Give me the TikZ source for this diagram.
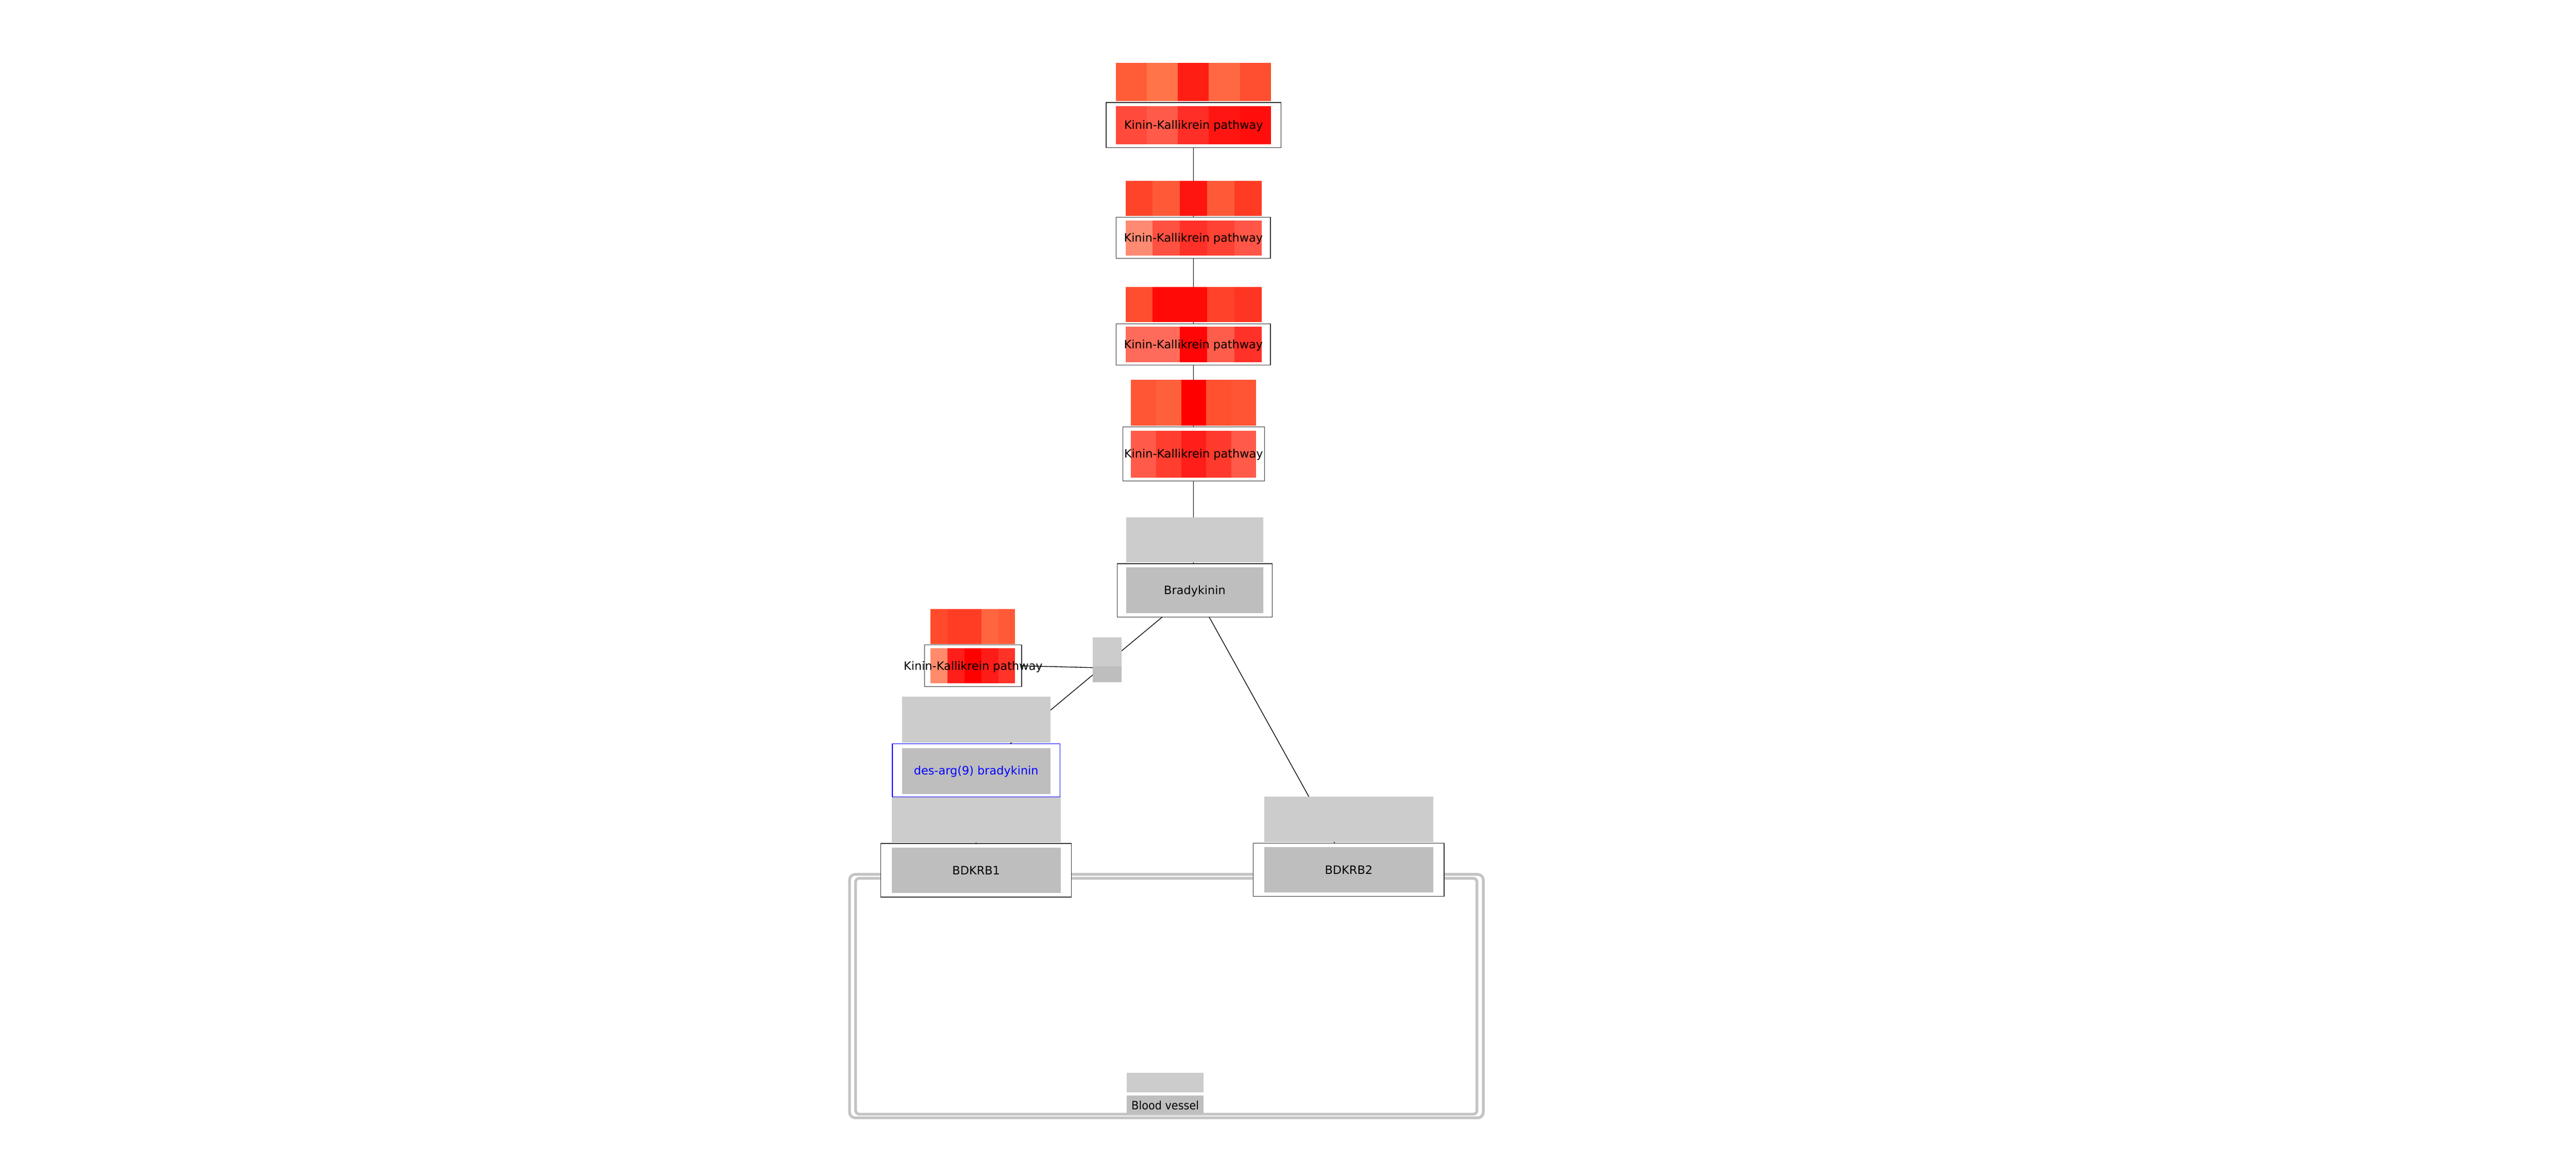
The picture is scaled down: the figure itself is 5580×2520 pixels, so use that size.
\documentclass[tikz,border=0pt]{standalone}
\usepackage{fontspec}
\setmainfont{DejaVu Sans}
\usetikzlibrary{calc}
\definecolor{gup}{HTML}{CCCCCC}
\definecolor{glow}{HTML}{BEBEBE}
\definecolor{compgray}{HTML}{C4C4C4}
\definecolor{boxline}{HTML}{333333}
\definecolor{dblue}{HTML}{0000FF}
\newcommand\RectNode[6]{%
  \pgfmathsetmacro\rnw{#5-#3}\pgfmathsetmacro\rnh{#6-#4}%
  \pgfmathsetmacro\rnx{(#3+#5)/2}\pgfmathsetmacro\rny{(#4+#6)/2}%
  \node[#2, minimum width=\rnw pt, minimum height=\rnh pt] (#1) at (\rnx,\rny) {};}
\newcommand\HeatCells[2]{%
  \foreach \hc [count=\hi from 0] in {#2} {%
    \definecolor{hcell}{HTML}{\hc}%
    \fill[hcell] ($(#1.south west)!{\hi/5}!(#1.south east)$) rectangle (#1.north east);
  }}
\begin{document}
\begin{tikzpicture}[x=1pt,y=-1pt,
  cellbox/.style={inner sep=0pt,outer sep=0pt,draw=none},
  nbox/.style={draw=boxline,fill=white,line width=1.4pt,inner sep=0pt,outer sep=0pt},
  bluebox/.style={nbox,draw=dblue},
  gupper/.style={cellbox,fill=gup},
  glower/.style={cellbox,fill=glow},
  conn/.style={draw=black,line width=1.5pt},
  lbl/.style={inner sep=0pt,anchor=base,text=black,font=\fontsize{25}{30}\selectfont},
  comp/.style={draw=compgray,line width=6pt}]
\useasboundingbox (0,0) rectangle (5580,2520);

% compartment (Blood vessel)
\draw[comp,rounded corners=12pt] (1840.3,1893.7) rectangle (3213,2421);
\draw[comp,rounded corners=8pt] (1853.3,1902.3) rectangle (3199.3,2413);

% boxes
\RectNode{p1box}{nbox}{2396}{222}{2775}{320}
\RectNode{p2box}{nbox}{2418}{470}{2752}{560}
\RectNode{p3box}{nbox}{2418}{701}{2752}{791}
\RectNode{p4box}{nbox}{2432}{925}{2739}{1042}
\RectNode{bkbox}{nbox}{2420}{1221}{2756}{1336}
\RectNode{p5box}{nbox}{2003}{1397}{2213}{1487}
\RectNode{dgbox}{bluebox}{1933}{1611}{2296}{1726}
\RectNode{b1box}{nbox}{1908}{1827}{2321}{1943}
\RectNode{b2box}{nbox}{2715}{1826}{3128}{1941}
\RectNode{anc}{cellbox}{2367}{1380}{2430}{1478}

% connectors
\draw[conn] (p1box.south) -- (p1box.south |- p2box.north);
\draw[conn] (p2box.south) -- (p2box.south |- p3box.north);
\draw[conn] (p3box.south) -- (p3box.south |- p4box.north);
\draw[conn] (p4box.south) -- (p4box.south |- bkbox.north);
\draw[conn] ([xshift=98pt]bkbox.south west) -- ([xshift=255pt]dgbox.north west);
\draw[conn] ([xshift=199pt]bkbox.south west) -- ([xshift=176pt]b2box.north west);
\draw[conn] (dgbox.south) -- (b1box.north);
\draw[conn] (p5box.east) -- ([yshift=-17pt]anc.west);

% anchor node
\fill[gup] (anc.north west) rectangle ([yshift=-14pt]anc.east);
\fill[glow] ([yshift=-14pt]anc.west) rectangle (anc.south east);

% heat strips
\RectNode{p1u}{cellbox}{2417}{136}{2753}{219}
\HeatCells{p1u}{FF5C38,FF7448,FF1E14,FF6842,FF4E30}
\RectNode{p1l}{cellbox}{2417}{230}{2753}{313}
\HeatCells{p1l}{FF4A3C,FF5A4A,FF2E26,FF1612,FF0E0C}
\RectNode{p2u}{cellbox}{2438}{392}{2733}{468}
\HeatCells{p2u}{FF4529,FF5A38,FF1510,FF5A38,FF3B24}
\RectNode{p2l}{cellbox}{2438}{478}{2733}{554}
\HeatCells{p2l}{FF8A72,FF5142,FF3028,FF4233,FF5647}
\RectNode{p3u}{cellbox}{2438}{622}{2733}{698}
\HeatCells{p3u}{FF4D2F,FF0A06,FF0A06,FF4229,FF3523}
\RectNode{p3l}{cellbox}{2438}{708}{2733}{784}
\HeatCells{p3l}{FF6B5A,FF6B5A,FF0505,FF5D4C,FF3128}
\RectNode{p4u}{cellbox}{2450}{822}{2721}{922}
\HeatCells{p4u}{FF5735,FF603C,FF0000,FF5030,FF5535}
\RectNode{p4l}{cellbox}{2450}{933}{2721}{1034}
\HeatCells{p4l}{FF5A4A,FF3E30,FF1E1A,FF3A2C,FF5A4A}
\RectNode{p5u}{cellbox}{2016}{1319}{2199}{1395}
\HeatCells{p5u}{FF4A2C,FF3D25,FF3D25,FF6640,FF5A38}
\RectNode{p5l}{cellbox}{2016}{1404}{2199}{1480}
\HeatCells{p5l}{FF8A6C,FF1E1A,FF0000,FF1C18,FF3328}

% gray data strips
\RectNode{bku}{gupper}{2440}{1120}{2736}{1218}
\RectNode{bkl}{glower}{2440}{1229}{2736}{1328}
\RectNode{dgu}{gupper}{1954}{1509}{2275}{1608}
\RectNode{dgl}{glower}{1954}{1620}{2275}{1720}
\RectNode{b1u}{gupper}{1932}{1726}{2298}{1825}
\RectNode{b1l}{glower}{1932}{1836}{2298}{1934}
\RectNode{b2u}{gupper}{2739}{1725}{3105}{1823}
\RectNode{b2l}{glower}{2739}{1835}{3105}{1933}
\RectNode{bvu}{gupper}{2441}{2323}{2607}{2366}
\RectNode{bvl}{glower}{2441}{2373}{2607}{2412}

% labels
\node[lbl] (t1) at (2585.5,280) {Kinin-Kallikrein pathway};
\node[lbl] (t2) at (2585,524) {Kinin-Kallikrein pathway};
\node[lbl] (t3) at (2585,755) {Kinin-Kallikrein pathway};
\node[lbl] (t4) at (2585.5,992) {Kinin-Kallikrein pathway};
\node[lbl] (tbk) at (2588,1287) {Bradykinin};
\node[lbl] (t5) at (2108,1451) {Kinin-Kallikrein pathway};
\node[lbl,text=dblue] (tdg) at (2114.5,1678) {des-arg(9) bradykinin};
\node[lbl] (tb1) at (2114.5,1894) {BDKRB1};
\node[lbl] (tb2) at (2921.5,1893) {BDKRB2};
\node[lbl] (tbv) at (2524,2403) {\scalebox{0.93}[1]{Blood vessel}};
\end{tikzpicture}
\end{document}
